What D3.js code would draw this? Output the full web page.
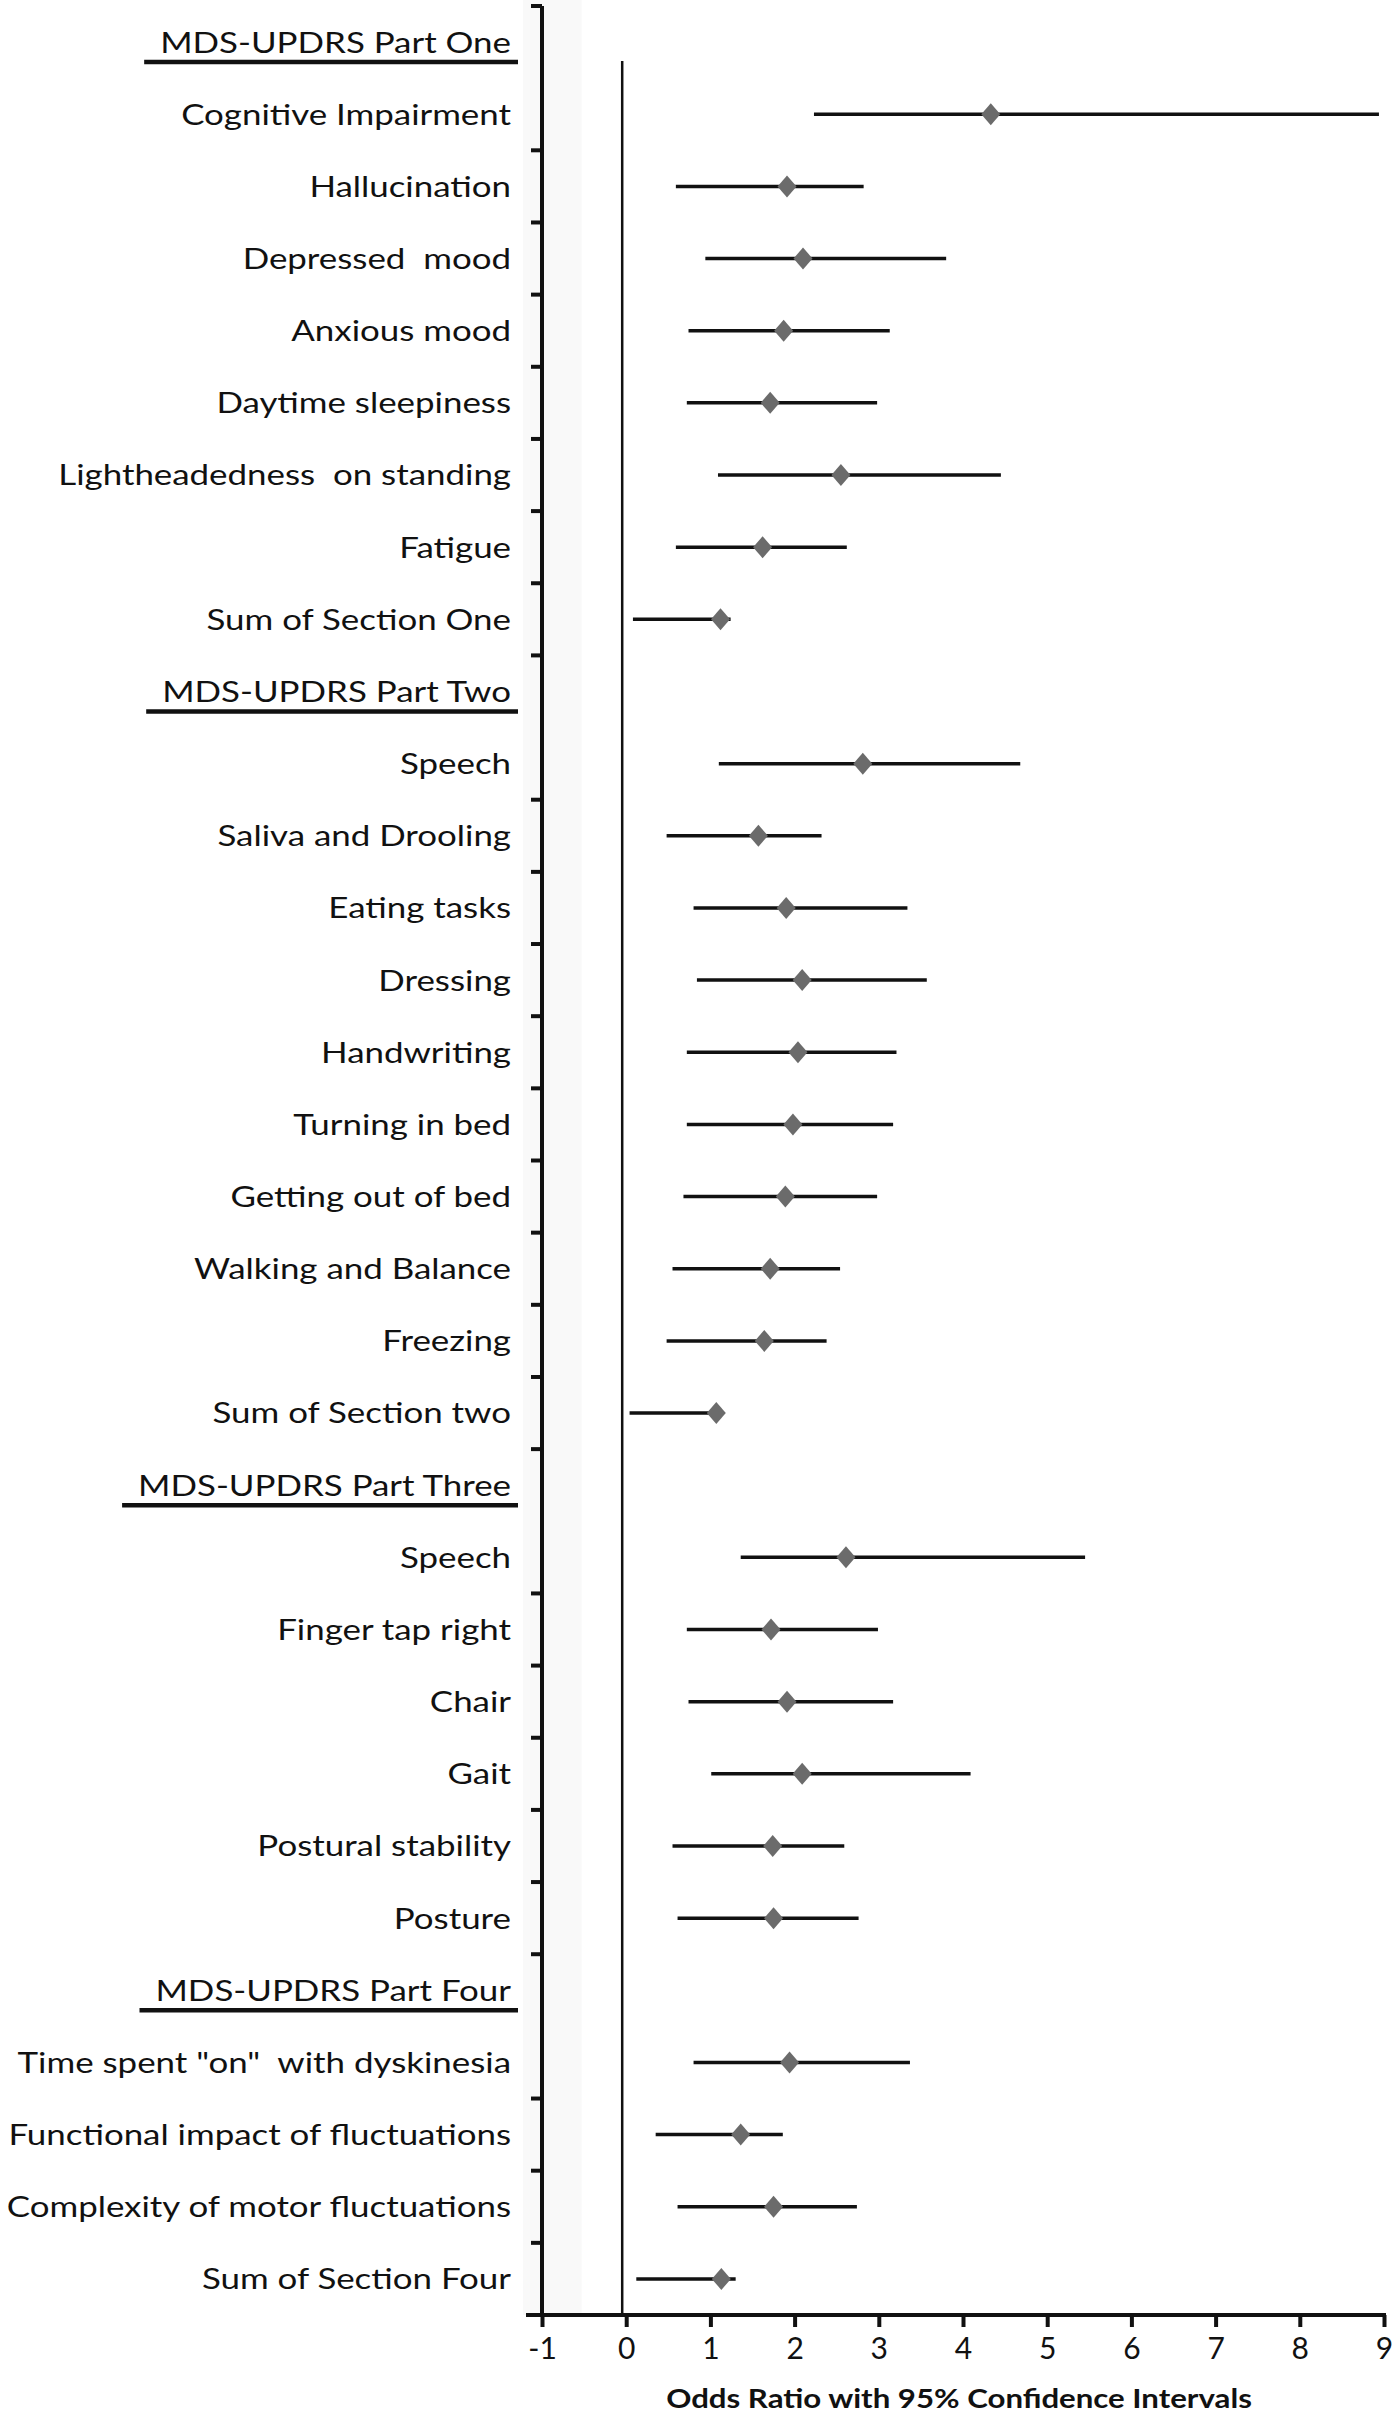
<!DOCTYPE html>
<html>
<head>
<meta charset="utf-8">
<script src="https://cdn.jsdelivr.net/npm/d3@7"></script>
<style>
  html, body { margin: 0; padding: 0; background: #ffffff; }
  svg { display: block; }
  text { font-family: Lato, "Open Sans", sans-serif; fill: #111; white-space: pre; }
</style>
</head>
<body>
<svg id="chart" width="1395" height="2412"></svg>
<script>
const rowLabels = [
  "MDS-UPDRS Part One",
  "Cognitive Impairment",
  "Hallucination",
  "Depressed  mood",
  "Anxious mood",
  "Daytime sleepiness",
  "Lightheadedness  on standing",
  "Fatigue",
  "Sum of Section One",
  "MDS-UPDRS Part Two",
  "Speech",
  "Saliva and Drooling",
  "Eating tasks",
  "Dressing",
  "Handwriting",
  "Turning in bed",
  "Getting out of bed",
  "Walking and Balance",
  "Freezing",
  "Sum of Section two",
  "MDS-UPDRS Part Three",
  "Speech",
  "Finger tap right",
  "Chair",
  "Gait",
  "Postural stability",
  "Posture",
  "MDS-UPDRS Part Four",
  "Time spent \"on\"  with dyskinesia",
  "Functional impact of fluctuations",
  "Complexity of motor fluctuations",
  "Sum of Section Four"
];
const headerRows = ["MDS-UPDRS Part One", "MDS-UPDRS Part Two", "MDS-UPDRS Part Three", "MDS-UPDRS Part Four"];

const oddsRatio = [null, 4.33, 1.91, 2.10, 1.87, 1.71, 2.55, 1.62, 1.12,
                   null, 2.81, 1.57, 1.90, 2.09, 2.04, 1.98, 1.89, 1.71, 1.64, 1.07,
                   null, 2.61, 1.72, 1.91, 2.09, 1.74, 1.75,
                   null, 1.94, 1.36, 1.75, 1.13];
const lowerCI   = [null, 2.23, 0.59, 0.94, 0.74, 0.72, 1.09, 0.59, 0.08,
                   null, 1.10, 0.48, 0.80, 0.84, 0.72, 0.72, 0.68, 0.55, 0.48, 0.04,
                   null, 1.36, 0.72, 0.74, 1.01, 0.55, 0.61,
                   null, 0.80, 0.35, 0.61, 0.12];
const upperCI   = [null, 8.94, 2.82, 3.80, 3.13, 2.98, 4.45, 2.62, 1.24,
                   null, 4.68, 2.32, 3.34, 3.57, 3.21, 3.17, 2.98, 2.54, 2.38, 1.12,
                   null, 5.45, 2.99, 3.17, 4.09, 2.59, 2.76,
                   null, 3.37, 1.86, 2.74, 1.30];
const xTicks = [-1, 0, 1, 2, 3, 4, 5, 6, 7, 8, 9];
const xTitle = "Odds Ratio with 95% Confidence Intervals";
const refValue = 0;

const svg = d3.select("#chart");

const x = d3.scaleLinear().domain([-1, 9]).range([542, 1384]);
const rows = d3.range(rowLabels.length);
const y = d3.scaleBand().domain(rows).range([6, 2315]).paddingInner(0).paddingOuter(0);
const yc = i => y(i) + y.bandwidth() / 2;
const isHeader = i => oddsRatio[i] === null && headerRows.includes(rowLabels[i]);

// faint band next to the axis
svg.append("rect")
  .attr("x", x(-1) - 19).attr("y", 0)
  .attr("width", x(-0.53) - (x(-1) - 19)).attr("height", y.range()[1])
  .attr("fill", "#f9f9f9");

// reference line at zero
svg.append("line")
  .attr("x1", x(refValue) - 4).attr("x2", x(refValue) - 4)
  .attr("y1", yc(0) + 19).attr("y2", y.range()[1])
  .attr("stroke", "#111").attr("stroke-width", 2.5);

// left axis line
svg.append("line")
  .attr("x1", x(-1)).attr("x2", x(-1))
  .attr("y1", y.range()[0]).attr("y2", y.range()[1])
  .attr("stroke", "#111").attr("stroke-width", 4);

// left axis ticks at band boundaries (none directly below a header)
const boundaries = rows.filter(i => i === 0 || !isHeader(i - 1));
svg.append("g").selectAll("line").data(boundaries).join("line")
  .attr("x1", x(-1) - 11).attr("x2", x(-1))
  .attr("y1", i => y(i)).attr("y2", i => y(i))
  .attr("stroke", "#111").attr("stroke-width", 4);

// bottom axis
const xAxis = d3.axisBottom(x).tickValues(xTicks).tickSize(12).tickSizeOuter(0).tickPadding(11)
  .tickFormat(d3.format("d"));
const gx = svg.append("g").attr("transform", `translate(0,${y.range()[1]})`).call(xAxis);
gx.select(".domain").remove();
gx.insert("line", ":first-child")
  .attr("x1", x(-1) - 16).attr("x2", x(9) + 2)
  .attr("y1", 0).attr("y2", 0)
  .attr("stroke", "#111").attr("stroke-width", 4);
gx.selectAll(".tick line").attr("stroke", "#111").attr("stroke-width", 4);
gx.selectAll(".tick text")
  .style("font-family", "Lato, sans-serif")
  .style("font-size", "30px")
  .attr("fill", "#111")
  .text(d => d < 0 ? "-" + Math.abs(d) : String(d));

// x title
const title = svg.append("text")
  .attr("x", x(4)).attr("y", 2408)
  .attr("text-anchor", "middle")
  .style("font-size", "26px").style("font-weight", "bold")
  .text(xTitle);
{
  const w = title.node().getComputedTextLength();
  const sx = 586 / w;
  title.attr("x", 0).attr("transform", `translate(${x(4) - 4},0) scale(${sx},1)`);
}

// row labels
const labelRight = 511;
const lg = svg.append("g");
const labels = lg.selectAll("text").data(rows).join("text")
  .attr("text-anchor", "end")
  .attr("dy", "0.36em")
  .style("font-size", "29px")
  .text(i => rowLabels[i]);
const refW = labels.filter(i => rowLabels[i] === "Cognitive Impairment").node().getComputedTextLength();
const sxLabel = 330 / refW;
labels.attr("transform", i => `translate(${labelRight},${yc(i)}) scale(${sxLabel},1)`);

// header underlines
labels.filter(i => isHeader(i)).each(function(i) {
  const w = this.getComputedTextLength() * sxLabel;
  svg.append("line")
    .attr("x1", labelRight - w - 16).attr("x2", labelRight + 7)
    .attr("y1", yc(i) + 20).attr("y2", yc(i) + 20)
    .attr("stroke", "#111").attr("stroke-width", 4.5);
});

// CI lines
const dataRows = rows.filter(i => oddsRatio[i] !== null);
svg.append("g").selectAll("line").data(dataRows).join("line")
  .attr("x1", i => x(lowerCI[i])).attr("x2", i => x(upperCI[i]))
  .attr("y1", i => yc(i)).attr("y2", i => yc(i))
  .attr("stroke", "#111").attr("stroke-width", 3.5);

// diamonds
const dw = 9.5, dh = 11;
svg.append("g").selectAll("path").data(dataRows).join("path")
  .attr("transform", i => `translate(${x(oddsRatio[i])},${yc(i)})`)
  .attr("d", `M0,${-dh}L${dw},0L0,${dh}L${-dw},0Z`)
  .attr("fill", "#6b6b6b");
</script>
</body>
</html>
